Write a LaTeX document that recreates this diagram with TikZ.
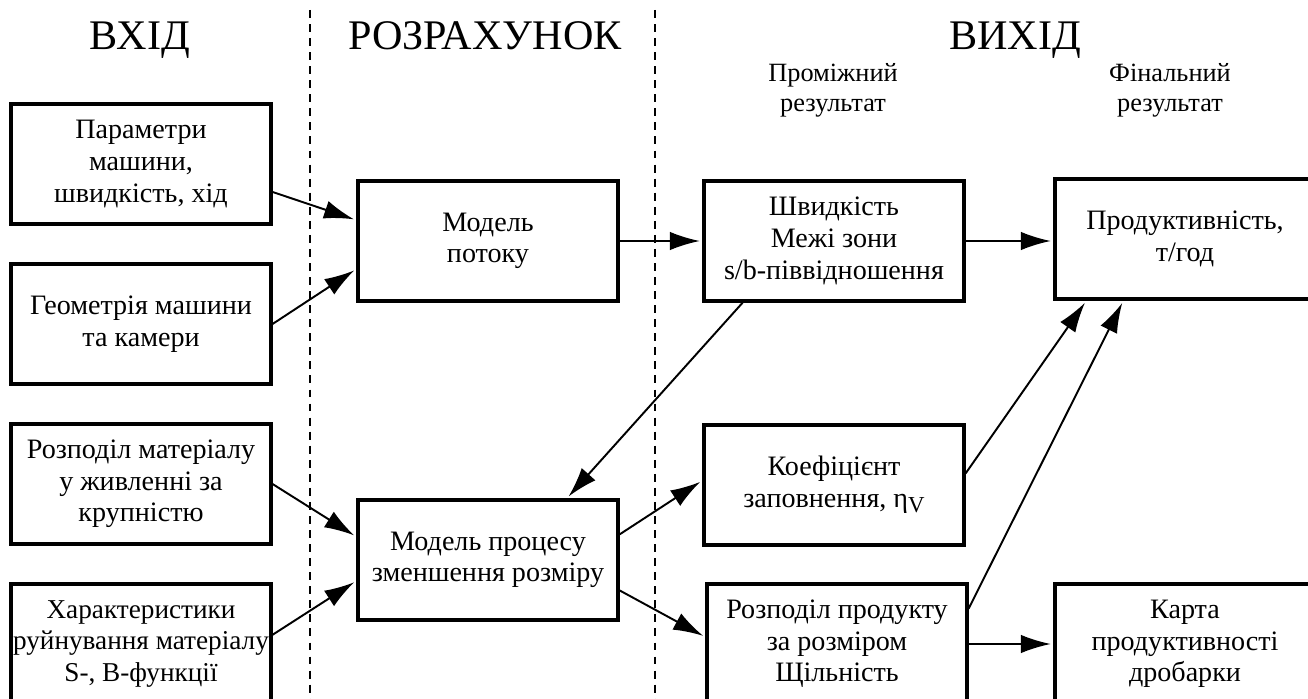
\documentclass[tikz,border=0pt]{standalone}
\usepackage{fontspec}
\setmainfont{Liberation Serif}
\usepackage{tikz}
\usetikzlibrary{arrows.meta}

\tikzset{
    box/.style={draw, line width=1.8pt, minimum width=5.2cm, minimum height=2.4cm,
        inner sep=2pt, align=center, font=\fontsize{16}{18}\selectfont},
    flow/.style={-{Latex[length=17pt,width=10.5pt]}, line width=1.1pt, shorten >=1.5pt},
    title/.style={anchor=base, font=\fontsize{24}{28}\selectfont},
    sub/.style={align=center, font=\fontsize{15}{17}\selectfont},
    sep/.style={line width=0.9pt, dash pattern=on 4.5pt off 3.5pt}
}

\begin{document}
\begin{tikzpicture}[x=0.02cm, y=-0.02cm]
    			\useasboundingbox (0,0) rectangle (1308,699);
    			\clip (0,0) rectangle (1308,699);
    			
    			\foreach \x in {310, 655}{
    				\draw[sep] (\x,10) -- (\x,699);
    			}
    			
    			\node[title] (tin) at (140,50) {ВХІД};
    			\node[title] (tcalc) at (485,50) {РОЗРАХУНОК};
    			\node[title] (tout) at (1015,50) {ВИХІД};
    			\node[sub] (tmid) at (833,90) {Проміжний\\результат};
    			\node[sub] (tfin) at (1170,90) {Фінальний\\результат};
    			
    			\node[box] (in1) at (141,164) {Параметри\\машини,\\швидкість, хід};
    			\node[box] (in2) at (141,324) {Геометрія машини\\та камери};
    			\node[box] (in3) at (141,484) {Розподіл матеріалу\\у живленні за\\крупністю};
    			\node[box, inner xsep=0pt, font=\fontsize{15.5}{18}\selectfont] (in4) at (141,644) {Характеристики\\руйнування матеріалу\\S-, B-функції};
    			\node[box] (mflow) at (488,241) {Модель\\потоку};
    			\node[box] (msize) at (488,560) {Модель процесу\\зменшення розміру};
    			\node[box] (vel) at (834,241) {Швидкість\\Межі зони\\s/b-піввідношення};
    			\node[box] (fillc) at (834,485) {Коефіцієнт\\заповнення, η\raisebox{-0.4ex}{\fontsize{13}{13}\selectfont V}};
    			\node[box] (psd) at (837,644) {Розподіл продукту\\за розміром\\Щільність};
    			\node[box] (thru) at (1185,239) {Продуктивність,\\т/год};
    			\node[box] (map) at (1185,644) {Карта\\продуктивності\\дробарки};
    			
    			\draw[flow] (in1.-12) -- (mflow.171);
    			\draw[flow] (in2.east) -- (mflow.-168);
    			\draw[flow] (in3.east) -- (msize.170);
    			\draw[flow] (in4.4) -- (msize.-171);
    			\draw[flow] (mflow.east) -- (vel.west);
    			\draw[flow] (vel.east) -- (vel.east -| thru.west);
    			\draw[flow] (vel.-146) -- (msize.38);
    			\draw[flow] (msize.11) -- (fillc.178);
    			\draw[flow] (msize.-13) -- (psd.177);
    			\draw[flow] (fillc.5) -- (thru.-148);
    			\draw[flow] (psd.15) -- (thru.-135);
    			\draw[flow] (psd.east) -- (map.west);
    		\end{tikzpicture}
\end{document}
